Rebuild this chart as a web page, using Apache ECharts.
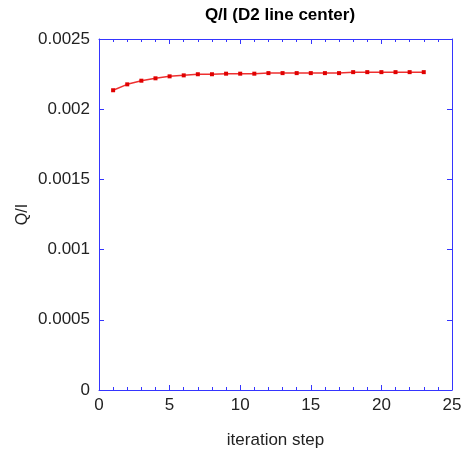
<!DOCTYPE html>
<html><head><meta charset="utf-8">
<script src="https://cdn.jsdelivr.net/npm/echarts@6/dist/echarts.min.js"></script>
<style>html,body{margin:0;padding:0;background:#fff}#c{width:469px;height:455px}</style>
</head><body><div id="c"></div>
<script>
const steps = [1,2,3,4,5,6,7,8,9,10,11,12,13,14,15,16,17,18,19,20,21,22,23];
const qOverI = [0.002135,0.002177,0.002203,0.002220,0.002234,0.002241,0.002249,0.002249,0.002253,0.002253,0.002253,0.002257,0.002257,0.002257,0.002257,0.002257,0.002257,0.002264,0.002264,0.002264,0.002264,0.002264,0.002264];
const titleText = 'Q/I (D2 line center)';
const xName = 'iteration step';
const yName = 'Q/I';

const font = 'Liberation Sans, Arial, Helvetica, sans-serif';
const axisColor = '#3535ff';
const chart = echarts.init(document.getElementById('c'), null, {renderer:'canvas'});
const xBase = {
  type:'value', min:0, max:25, interval:5,
  axisLine:{show:true, onZero:false, lineStyle:{color:axisColor, width:1}},
  axisTick:{show:true, inside:true, length:5, lineStyle:{color:axisColor}},
  minorTick:{show:true, splitNumber:5, length:3, lineStyle:{color:axisColor}},
  splitLine:{show:false}
};
const yBase = {
  type:'value', min:0, max:0.0025, interval:0.0005,
  axisLine:{show:true, onZero:false, lineStyle:{color:axisColor, width:1}},
  axisTick:{show:true, inside:true, length:5, lineStyle:{color:axisColor}},
  splitLine:{show:false}
};
chart.setOption({
  animation:false,
  backgroundColor:'#fff',
  title:{text:titleText, left:275, textAlign:'center', top:2,
    textStyle:{fontFamily:font, fontSize:17, fontWeight:'bold', color:'#000'}},
  grid:{left:99, right:17, top:39, bottom:65},
  xAxis:[
    Object.assign({}, xBase, {position:'bottom', name:xName, nameLocation:'middle', nameGap:42, nameMoveOverlap:false,
      nameTextStyle:{fontFamily:font, fontSize:17, color:'#222'},
      axisLabel:{show:true, margin:7, fontFamily:font, fontSize:17, color:'#222'}}),
    Object.assign({}, xBase, {position:'top', axisLabel:{show:false}})
  ],
  yAxis:[
    Object.assign({}, yBase, {position:'left', name:yName, nameLocation:'middle', nameGap:68, nameRotate:90, nameMoveOverlap:false,
      nameTextStyle:{fontFamily:font, fontSize:16, color:'#222'},
      axisLabel:{show:true, margin:9, fontFamily:font, fontSize:17, color:'#222',
        formatter:v=>String(+v.toFixed(6))}}),
    Object.assign({}, yBase, {position:'right', axisLabel:{show:false}})
  ],
  series:[{
    type:'line', xAxisIndex:0, yAxisIndex:0,
    data: steps.map((s,i)=>[s,qOverI[i]]),
    symbol:'rect', symbolSize:4, showSymbol:true,
    lineStyle:{color:'#ee3030', width:1.5},
    itemStyle:{color:'#e00000'}
  }]
});
</script></body></html>
